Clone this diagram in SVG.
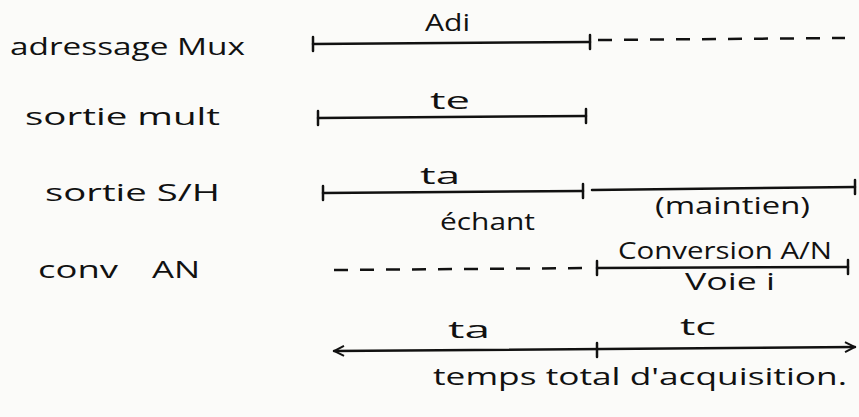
<svg xmlns="http://www.w3.org/2000/svg" width="859" height="417" viewBox="0 0 859 417">
<defs>
<style>
text{font-family:"Open Sans","DejaVu Sans",sans-serif;fill:#111;font-size:24px}
.l{stroke:#111;stroke-width:2.5;fill:none;stroke-linecap:round}
.d{stroke:#111;stroke-width:2.5;fill:none;stroke-dasharray:14 12}
</style>
<marker id="ah" viewBox="0 0 12 12" refX="11" refY="6" markerWidth="12" markerHeight="12" markerUnits="userSpaceOnUse" orient="auto-start-reverse">
<path d="M1,1 L11,6 L1,11" fill="none" stroke="#111" stroke-width="2"/>
</marker>
</defs>
<rect width="859" height="417" fill="#fbfbf9"/>
<g id="labels">
<text x="10" y="55" textLength="235" lengthAdjust="spacingAndGlyphs" font-size="26">adressage Mux</text>
<text x="25" y="125" textLength="195" lengthAdjust="spacingAndGlyphs" font-size="26">sortie mult</text>
<text x="45" y="201" textLength="175" lengthAdjust="spacingAndGlyphs">sortie S/H</text>
<text x="38" y="278" textLength="80" lengthAdjust="spacingAndGlyphs" font-size="22">conv</text>
<text x="152" y="278" textLength="48" lengthAdjust="spacingAndGlyphs" font-size="22">AN</text>
</g>
<g id="connectors">
<line class="l" x1="313" y1="44" x2="590" y2="42"/>
<line class="l" x1="313" y1="37" x2="313" y2="51"/>
<line class="l" x1="590" y1="35" x2="590" y2="49"/>
<line class="d" x1="598" y1="40" x2="845" y2="38"/>
<line class="l" x1="318" y1="118" x2="586" y2="116"/>
<line class="l" x1="318" y1="111" x2="318" y2="125"/>
<line class="l" x1="586" y1="109" x2="586" y2="123"/>
<line class="l" x1="323" y1="193" x2="583" y2="191"/>
<line class="l" x1="323" y1="186" x2="323" y2="200"/>
<line class="l" x1="583" y1="184" x2="583" y2="198"/>
<line class="l" x1="592" y1="190" x2="855" y2="187"/>
<line class="l" x1="855" y1="180" x2="855" y2="194"/>
<line class="d" x1="334" y1="270" x2="592" y2="268"/>
<line class="l" x1="597" y1="268" x2="848" y2="267"/>
<line class="l" x1="597" y1="261" x2="597" y2="275"/>
<line class="l" x1="848" y1="260" x2="848" y2="274"/>
<line class="l" x1="334" y1="351" x2="855" y2="347" marker-start="url(#ah)" marker-end="url(#ah)"/>
<line class="l" x1="597" y1="343" x2="597" y2="357"/>
</g>
<g id="annotations">
<text x="425" y="31" textLength="45" lengthAdjust="spacingAndGlyphs">Adi</text>
<text x="430" y="109" textLength="40" lengthAdjust="spacingAndGlyphs">te</text>
<text x="420" y="184" textLength="40" lengthAdjust="spacingAndGlyphs">ta</text>
<text x="440" y="230" textLength="95" lengthAdjust="spacingAndGlyphs">échant</text>
<text x="655" y="214" textLength="155" lengthAdjust="spacingAndGlyphs" font-size="20">(maintien)</text>
<text x="618" y="259" textLength="214" lengthAdjust="spacingAndGlyphs" font-size="22">Conversion A/N</text>
<text x="685" y="290" textLength="90" lengthAdjust="spacingAndGlyphs" font-size="22">Voie i</text>
<text x="448" y="338" textLength="42" lengthAdjust="spacingAndGlyphs">ta</text>
<text x="680" y="335" textLength="36" lengthAdjust="spacingAndGlyphs">tc</text>
<text x="433" y="385" textLength="414" lengthAdjust="spacingAndGlyphs">temps total d'acquisition.</text>
</g>
</svg>
